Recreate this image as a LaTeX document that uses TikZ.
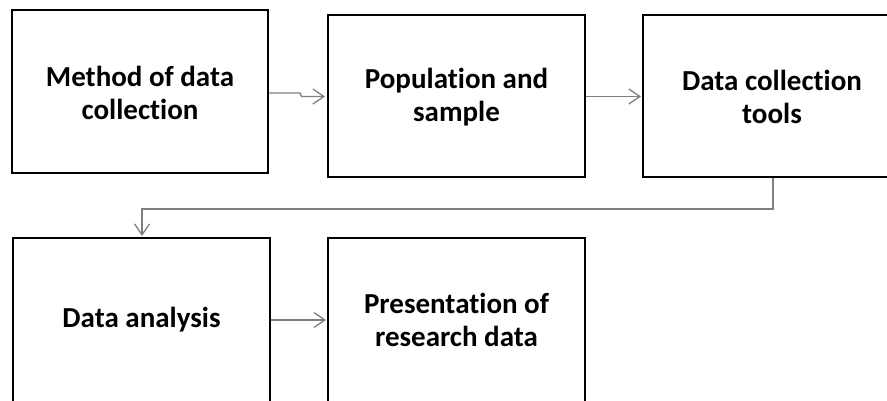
\documentclass[tikz,border=0pt]{standalone}
\usepackage{fontspec}
\setmainfont{Carlito}[Ligatures={NoCommon}]
\usetikzlibrary{arrows.meta}
\definecolor{conn}{HTML}{7F7F7F}
\tikzset{
  box/.style={draw=black, line width=2.2pt, fill=white, inner sep=0pt},
  lbl/.style={font=\bfseries\fontsize{29}{33}\selectfont, align=center, text=black},
  conn/.style={draw=conn, line width=1.4pt, -{Straight Barb[length=11pt,width=15pt,line width=1.3pt]}},
}
\begin{document}
\begin{tikzpicture}[x=1pt,y=-1pt]
\useasboundingbox (0,0) rectangle (887,400);
\clip (0,0) rectangle (887,400);
% boxes
\draw[box] (12,10) rectangle (268,173);
\coordinate (b1c) at (140,93);
\draw[box] (328,15) rectangle (585,177);
\coordinate (b2c) at (456.5,97);
\draw[box] (643,15) rectangle (901,177);
\coordinate (b3c) at (772,97);
\draw[box] (13,238) rectangle (270,402);
\coordinate (b4c) at (141.5,320);
\draw[box] (328,238) rectangle (585,402);
\coordinate (b5c) at (456.5,320);
% labels
\node[lbl] (t1) at (b1c) {Method of data\\collection};
\node[lbl] (t2) at (b2c) {Population and\\sample};
\node[lbl] (t3) at (b3c) {Data collection\\tools};
\node[lbl] (t4) at (b4c) {Data analysis};
\node[lbl] (t5) at (b5c) {Presentation of\\research data};
% connector anchors
\coordinate (a1s) at (269,93);
\coordinate (a1e) at (325,96.5);
\coordinate (a2s) at (586,96.5);
\coordinate (a2e) at (641,96.5);
\coordinate (a3s) at (773,178);
\coordinate (a3e) at (142,236);
\coordinate (a4s) at (271,320);
\coordinate (a4e) at (326,320);
% connectors
\draw[conn] (a1s) -- (300,93) -- (301.5,96.5) -- (a1e);
\draw[conn] (a2s) -- (a2e);
\draw[conn] (a3s) |- (142,209) -- (a3e);
\draw[conn] (a4s) -- (a4e);
\end{tikzpicture}
\end{document}
